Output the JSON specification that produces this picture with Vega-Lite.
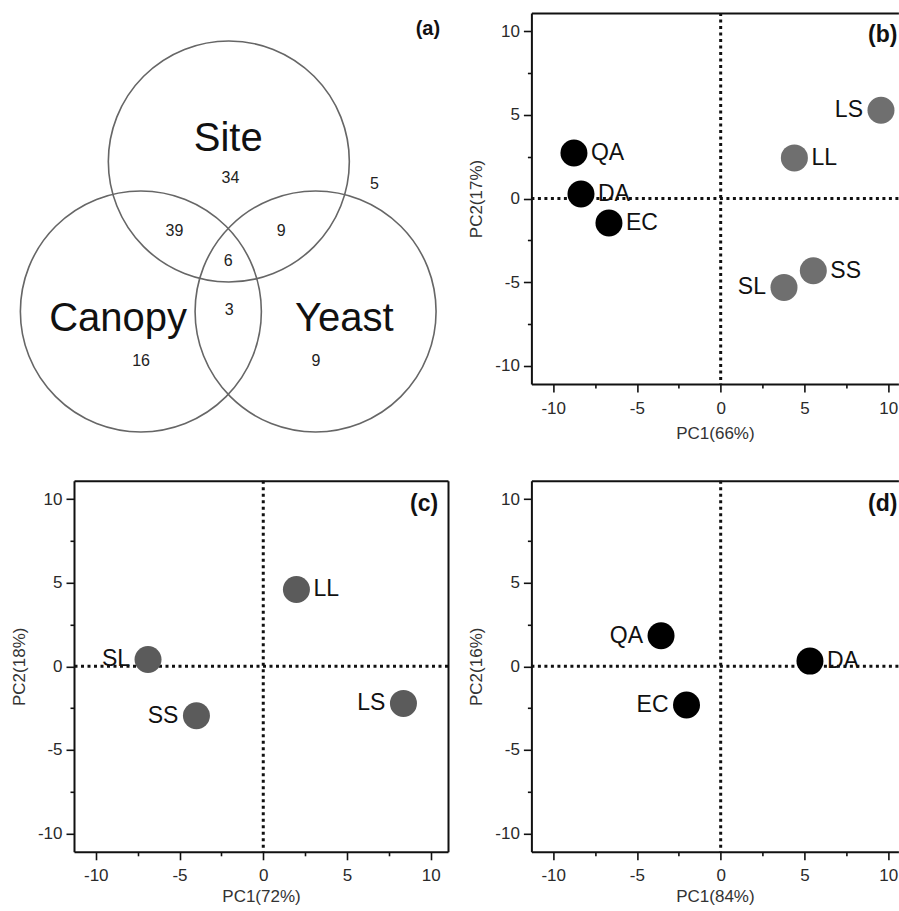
{
  "$schema": "https://vega.github.io/schema/vega-lite/v6.json",
  "padding": {"left": 10, "top": 11, "right": 0, "bottom": 0},
  "autosize": {"type": "pad"},
  "background": "white",
  "bounds": "flush",
  "columns": 2,
  "spacing": {"row": 96.8, "column": 83.4},
  "config": {
    "view": {"stroke": null},
    "font": "Liberation Sans",
    "axis": {
      "grid": false,
      "domainColor": "#111111",
      "domainWidth": 2,
      "domainCap": "butt",
      "tickColor": "#111111",
      "tickWidth": 1.6,
      "labelFont": "Liberation Sans",
      "labelFontSize": 17,
      "labelColor": "#2a2a2a",
      "titleFont": "Liberation Sans",
      "titleFontSize": 17,
      "titleFontWeight": "normal",
      "titleColor": "#333333",
      "labelFlush": false,
      "labelOverlap": false
    }
  },
  "datasets": {
    "b": [
      {"site": "QA", "pc1": -8.76, "pc2": 2.72, "group": "G1"},
      {"site": "DA", "pc1": -8.34, "pc2": 0.27, "group": "G1"},
      {"site": "EC", "pc1": -6.67, "pc2": -1.47, "group": "G1"},
      {"site": "LS", "pc1": 9.57, "pc2": 5.28, "group": "G2"},
      {"site": "LL", "pc1": 4.40, "pc2": 2.43, "group": "G2"},
      {"site": "SS", "pc1": 5.53, "pc2": -4.32, "group": "G2"},
      {"site": "SL", "pc1": 3.78, "pc2": -5.32, "group": "G2"}
    ],
    "c": [
      {"site": "LL", "pc1": 1.98, "pc2": 4.60, "group": "G2"},
      {"site": "SL", "pc1": -6.88, "pc2": 0.41, "group": "G2"},
      {"site": "SS", "pc1": -3.99, "pc2": -2.96, "group": "G2"},
      {"site": "LS", "pc1": 8.37, "pc2": -2.22, "group": "G2"}
    ],
    "d": [
      {"site": "QA", "pc1": -3.56, "pc2": 1.83, "group": "G1"},
      {"site": "DA", "pc1": 5.33, "pc2": 0.31, "group": "G1"},
      {"site": "EC", "pc1": -2.04, "pc2": -2.32, "group": "G1"}
    ],
    "sets": [
      {"set": "Site", "cx": 0.005, "cy": 1.245, "lx": 0, "ly": 1.328},
      {"set": "Canopy", "cx": -0.725, "cy": 0, "lx": -0.914, "ly": -0.166},
      {"set": "Yeast", "cx": 0.725, "cy": 0, "lx": 0.964, "ly": -0.166}
    ],
    "counts": [
      {"region": "Site only", "n": 34, "x": 0.018, "y": 1.068},
      {"region": "None", "n": 5, "x": 1.213, "y": 1.017},
      {"region": "Site and Canopy", "n": 39, "x": -0.447, "y": 0.624},
      {"region": "Site and Yeast", "n": 9, "x": 0.439, "y": 0.624},
      {"region": "All three", "n": 6, "x": -0.001, "y": 0.381},
      {"region": "Canopy and Yeast", "n": 3, "x": 0.008, "y": -0.033},
      {"region": "Canopy only", "n": 16, "x": -0.723, "y": -0.456},
      {"region": "Yeast only", "n": 9, "x": 0.729, "y": -0.456}
    ],
    "one": [{}]
  },
  "concat": [
    {
      "width": 374,
      "height": 371,
      "layer": [
        {
          "data": {"name": "sets"},
          "mark": {"type": "point", "shape": "circle", "size": 58081, "filled": false, "color": "#666666", "strokeWidth": 1.6, "opacity": 1},
          "encoding": {
            "x": {"field": "cx", "type": "quantitative", "scale": {"domain": [-1.28, 1.824], "nice": false, "zero": false}, "axis": null},
            "y": {"field": "cy", "type": "quantitative", "scale": {"domain": [-0.602, 2.477], "nice": false, "zero": false}, "axis": null}
          }
        },
        {
          "data": {"name": "sets"},
          "mark": {"type": "text", "fontSize": 40, "align": "center", "baseline": "alphabetic", "color": "#111111"},
          "encoding": {
            "x": {"field": "lx", "type": "quantitative", "scale": {"domain": [-1.28, 1.824], "nice": false, "zero": false}, "axis": null},
            "y": {"field": "ly", "type": "quantitative", "scale": {"domain": [-0.602, 2.477], "nice": false, "zero": false}, "axis": null},
            "text": {"field": "set"}
          }
        },
        {
          "data": {"name": "counts"},
          "mark": {"type": "text", "fontSize": 16, "align": "center", "baseline": "alphabetic", "color": "#222222"},
          "encoding": {
            "x": {"field": "x", "type": "quantitative", "scale": {"domain": [-1.28, 1.824], "nice": false, "zero": false}, "axis": null},
            "y": {"field": "y", "type": "quantitative", "scale": {"domain": [-0.602, 2.477], "nice": false, "zero": false}, "axis": null},
            "text": {"field": "n"}
          }
        },
        {
          "data": {"name": "one"},
          "mark": {"type": "text", "fontSize": 20, "fontWeight": "bold", "align": "center", "baseline": "alphabetic", "color": "#111111"},
          "encoding": {
            "x": {"datum": 1.657, "type": "quantitative", "scale": {"domain": [-1.28, 1.824], "nice": false, "zero": false}, "axis": null},
            "y": {"datum": 2.292, "type": "quantitative", "scale": {"domain": [-0.602, 2.477], "nice": false, "zero": false}, "axis": null},
            "text": {"value": "(a)"}
          }
        }
      ]
    },
    {
      "width": 367,
      "height": 371,
      "resolve": {"axis": {"x": "independent", "y": "independent"}},
      "layer": [
        {
          "data": {"name": "one"},
          "mark": {"type": "rule", "strokeDash": [3, 3.5], "strokeWidth": 3, "color": "#111111"},
          "encoding": {
            "y": {"datum": 0, "type": "quantitative", "scale": {"domain": [-11.1, 11.1], "nice": false, "zero": false},
              "axis": {"orient": "left", "values": [-10, -5, 0, 5, 10], "tickSize": 8, "labelPadding": 4, "title": "PC2(17%)", "titlePadding": 9, "labelExpr": "toString(datum.value)"}}
          }
        },
        {
          "data": {"name": "one"},
          "mark": {"type": "rule", "strokeDash": [3, 3.5], "strokeWidth": 3, "color": "#111111"},
          "encoding": {
            "x": {"datum": 0, "type": "quantitative", "scale": {"domain": [-11.3, 10.61], "nice": false, "zero": false},
              "axis": {"orient": "bottom", "values": [-10, -5, 0, 5, 10], "tickSize": 8, "labelPadding": 8, "title": "PC1(66%)", "titlePadding": 9, "labelExpr": "toString(datum.value)"}}
          }
        },
        {
          "data": {"name": "b"},
          "mark": {"type": "circle", "size": 729, "opacity": 1},
          "encoding": {
            "x": {"field": "pc1", "type": "quantitative", "scale": {"domain": [-11.3, 10.61], "nice": false, "zero": false},
              "axis": {"orient": "bottom", "values": [-7.5, -2.5, 2.5, 7.5], "tickSize": 4, "labels": false, "domain": false, "title": null}},
            "y": {"field": "pc2", "type": "quantitative", "scale": {"domain": [-11.1, 11.1], "nice": false, "zero": false},
              "axis": {"orient": "left", "values": [-7.5, -2.5, 2.5, 7.5], "tickSize": 4, "labels": false, "domain": false, "title": null}},
            "color": {"condition": {"test": "datum.group === 'G1'", "value": "#000000"}, "value": "#6f6f6f"}
          }
        },
        {
          "data": {"name": "b"},
          "transform": [{"filter": {"field": "site", "oneOf": ["QA", "DA", "EC", "LL", "SS"]}}],
          "mark": {"type": "text", "align": "left", "baseline": "middle", "dx": 17, "fontSize": 23, "color": "#111111"},
          "encoding": {
            "x": {"field": "pc1", "type": "quantitative", "scale": {"domain": [-11.3, 10.61], "nice": false, "zero": false},
              "axis": {"orient": "top", "ticks": false, "labels": false, "domain": true, "title": null}},
            "y": {"field": "pc2", "type": "quantitative", "scale": {"domain": [-11.1, 11.1], "nice": false, "zero": false}, "axis": null},
            "text": {"field": "site"}
          }
        },
        {
          "data": {"name": "b"},
          "transform": [{"filter": {"field": "site", "oneOf": ["LS", "SL"]}}],
          "mark": {"type": "text", "align": "right", "baseline": "middle", "dx": -18, "fontSize": 23, "color": "#111111"},
          "encoding": {
            "x": {"field": "pc1", "type": "quantitative", "scale": {"domain": [-11.3, 10.61], "nice": false, "zero": false}, "axis": null},
            "y": {"field": "pc2", "type": "quantitative", "scale": {"domain": [-11.1, 11.1], "nice": false, "zero": false}, "axis": null},
            "text": {"field": "site"}
          }
        },
        {
          "data": {"name": "one"},
          "mark": {"type": "text", "align": "right", "baseline": "alphabetic", "fontSize": 23, "fontWeight": "bold", "color": "#111111"},
          "encoding": {
            "x": {"datum": 10.55, "type": "quantitative", "scale": {"domain": [-11.3, 10.61], "nice": false, "zero": false}, "axis": null},
            "y": {"datum": 9.35, "type": "quantitative", "scale": {"domain": [-11.1, 11.1], "nice": false, "zero": false}, "axis": null},
            "text": {"value": "(b)"}
          }
        }
      ]
    },
    {
      "width": 374,
      "height": 371,
      "resolve": {"axis": {"x": "independent", "y": "independent"}},
      "layer": [
        {
          "data": {"name": "one"},
          "mark": {"type": "rule", "strokeDash": [3, 3.5], "strokeWidth": 3, "color": "#111111"},
          "encoding": {
            "y": {"datum": 0, "type": "quantitative", "scale": {"domain": [-11.1, 11.1], "nice": false, "zero": false},
              "axis": {"orient": "left", "values": [-10, -5, 0, 5, 10], "tickSize": 8, "labelPadding": 4, "title": "PC2(18%)", "titlePadding": 9, "labelExpr": "toString(datum.value)"}}
          }
        },
        {
          "data": {"name": "one"},
          "mark": {"type": "rule", "strokeDash": [3, 3.5], "strokeWidth": 3, "color": "#111111"},
          "encoding": {
            "x": {"datum": 0, "type": "quantitative", "scale": {"domain": [-11.3, 11.03], "nice": false, "zero": false},
              "axis": {"orient": "bottom", "values": [-10, -5, 0, 5, 10], "tickSize": 8, "labelPadding": 8, "title": "PC1(72%)", "titlePadding": 5, "labelExpr": "toString(datum.value)"}}
          }
        },
        {
          "data": {"name": "c"},
          "mark": {"type": "circle", "size": 729, "opacity": 1},
          "encoding": {
            "x": {"field": "pc1", "type": "quantitative", "scale": {"domain": [-11.3, 11.03], "nice": false, "zero": false},
              "axis": {"orient": "bottom", "values": [-7.5, -2.5, 2.5, 7.5], "tickSize": 4, "labels": false, "domain": false, "title": null}},
            "y": {"field": "pc2", "type": "quantitative", "scale": {"domain": [-11.1, 11.1], "nice": false, "zero": false},
              "axis": {"orient": "left", "values": [-7.5, -2.5, 2.5, 7.5], "tickSize": 4, "labels": false, "domain": false, "title": null}},
            "color": {"condition": {"test": "datum.group === 'G1'", "value": "#000000"}, "value": "#5b5b5b"}
          }
        },
        {
          "data": {"name": "c"},
          "transform": [{"filter": {"field": "site", "oneOf": ["LL"]}}],
          "mark": {"type": "text", "align": "left", "baseline": "middle", "dx": 17, "fontSize": 23, "color": "#111111"},
          "encoding": {
            "x": {"field": "pc1", "type": "quantitative", "scale": {"domain": [-11.3, 11.03], "nice": false, "zero": false},
              "axis": {"orient": "top", "ticks": false, "labels": false, "domain": true, "title": null}},
            "y": {"field": "pc2", "type": "quantitative", "scale": {"domain": [-11.1, 11.1], "nice": false, "zero": false},
              "axis": {"orient": "right", "ticks": false, "labels": false, "domain": true, "title": null}},
            "text": {"field": "site"}
          }
        },
        {
          "data": {"name": "c"},
          "transform": [{"filter": {"field": "site", "oneOf": ["SL", "SS", "LS"]}}],
          "mark": {"type": "text", "align": "right", "baseline": "middle", "dx": -18, "fontSize": 23, "color": "#111111"},
          "encoding": {
            "x": {"field": "pc1", "type": "quantitative", "scale": {"domain": [-11.3, 11.03], "nice": false, "zero": false}, "axis": null},
            "y": {"field": "pc2", "type": "quantitative", "scale": {"domain": [-11.1, 11.1], "nice": false, "zero": false}, "axis": null},
            "text": {"field": "site"}
          }
        },
        {
          "data": {"name": "one"},
          "mark": {"type": "text", "align": "right", "baseline": "alphabetic", "fontSize": 23, "fontWeight": "bold", "color": "#111111"},
          "encoding": {
            "x": {"datum": 10.44, "type": "quantitative", "scale": {"domain": [-11.3, 11.03], "nice": false, "zero": false}, "axis": null},
            "y": {"datum": 9.3, "type": "quantitative", "scale": {"domain": [-11.1, 11.1], "nice": false, "zero": false}, "axis": null},
            "text": {"value": "(c)"}
          }
        }
      ]
    },
    {
      "width": 367,
      "height": 371,
      "resolve": {"axis": {"x": "independent", "y": "independent"}},
      "layer": [
        {
          "data": {"name": "one"},
          "mark": {"type": "rule", "strokeDash": [3, 3.5], "strokeWidth": 3, "color": "#111111"},
          "encoding": {
            "y": {"datum": 0, "type": "quantitative", "scale": {"domain": [-11.1, 11.1], "nice": false, "zero": false},
              "axis": {"orient": "left", "values": [-10, -5, 0, 5, 10], "tickSize": 8, "labelPadding": 4, "title": "PC2(16%)", "titlePadding": 9, "labelExpr": "toString(datum.value)"}}
          }
        },
        {
          "data": {"name": "one"},
          "mark": {"type": "rule", "strokeDash": [3, 3.5], "strokeWidth": 3, "color": "#111111"},
          "encoding": {
            "x": {"datum": 0, "type": "quantitative", "scale": {"domain": [-11.3, 10.61], "nice": false, "zero": false},
              "axis": {"orient": "bottom", "values": [-10, -5, 0, 5, 10], "tickSize": 8, "labelPadding": 8, "title": "PC1(84%)", "titlePadding": 5, "labelExpr": "toString(datum.value)"}}
          }
        },
        {
          "data": {"name": "d"},
          "mark": {"type": "circle", "size": 729, "opacity": 1},
          "encoding": {
            "x": {"field": "pc1", "type": "quantitative", "scale": {"domain": [-11.3, 10.61], "nice": false, "zero": false},
              "axis": {"orient": "bottom", "values": [-7.5, -2.5, 2.5, 7.5], "tickSize": 4, "labels": false, "domain": false, "title": null}},
            "y": {"field": "pc2", "type": "quantitative", "scale": {"domain": [-11.1, 11.1], "nice": false, "zero": false},
              "axis": {"orient": "left", "values": [-7.5, -2.5, 2.5, 7.5], "tickSize": 4, "labels": false, "domain": false, "title": null}},
            "color": {"condition": {"test": "datum.group === 'G1'", "value": "#000000"}, "value": "#6f6f6f"}
          }
        },
        {
          "data": {"name": "d"},
          "transform": [{"filter": {"field": "site", "oneOf": ["DA"]}}],
          "mark": {"type": "text", "align": "left", "baseline": "middle", "dx": 17, "fontSize": 23, "color": "#111111"},
          "encoding": {
            "x": {"field": "pc1", "type": "quantitative", "scale": {"domain": [-11.3, 10.61], "nice": false, "zero": false},
              "axis": {"orient": "top", "ticks": false, "labels": false, "domain": true, "title": null}},
            "y": {"field": "pc2", "type": "quantitative", "scale": {"domain": [-11.1, 11.1], "nice": false, "zero": false}, "axis": null},
            "text": {"field": "site"}
          }
        },
        {
          "data": {"name": "d"},
          "transform": [{"filter": {"field": "site", "oneOf": ["QA", "EC"]}}],
          "mark": {"type": "text", "align": "right", "baseline": "middle", "dx": -18, "fontSize": 23, "color": "#111111"},
          "encoding": {
            "x": {"field": "pc1", "type": "quantitative", "scale": {"domain": [-11.3, 10.61], "nice": false, "zero": false}, "axis": null},
            "y": {"field": "pc2", "type": "quantitative", "scale": {"domain": [-11.1, 11.1], "nice": false, "zero": false}, "axis": null},
            "text": {"field": "site"}
          }
        },
        {
          "data": {"name": "one"},
          "mark": {"type": "text", "align": "right", "baseline": "alphabetic", "fontSize": 23, "fontWeight": "bold", "color": "#111111"},
          "encoding": {
            "x": {"datum": 10.55, "type": "quantitative", "scale": {"domain": [-11.3, 10.61], "nice": false, "zero": false}, "axis": null},
            "y": {"datum": 9.3, "type": "quantitative", "scale": {"domain": [-11.1, 11.1], "nice": false, "zero": false}, "axis": null},
            "text": {"value": "(d)"}
          }
        }
      ]
    }
  ]
}
